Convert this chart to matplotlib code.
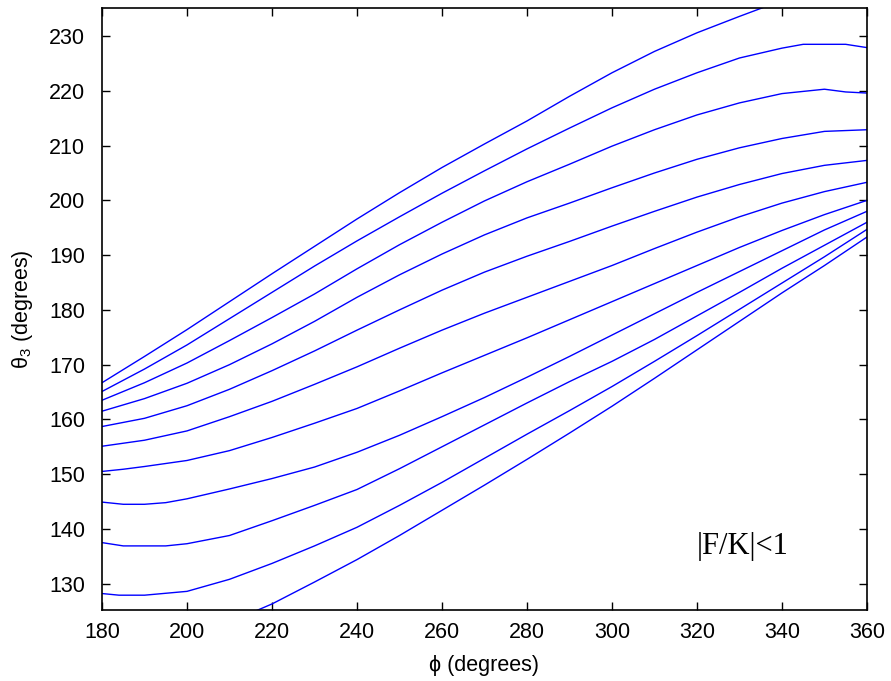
import matplotlib
matplotlib.use("Agg")
import matplotlib.pyplot as plt

plt.rcParams['font.family'] = ['Liberation Sans', 'DejaVu Sans']
plt.rcParams['mathtext.fontset'] = 'custom'
plt.rcParams['mathtext.rm'] = 'Liberation Sans'
plt.rcParams['mathtext.it'] = 'Liberation Sans'

# Curves: phi (degrees) and theta_3 (degrees)
phi_1 = [180, 190, 200, 210, 220, 230, 240, 250, 260, 270, 280, 290, 300, 310, 320, 330, 340, 350, 360]
theta_1 = [166.7, 171.5, 176.4, 181.5, 186.6, 191.6, 196.6, 201.4, 206.0, 210.3, 214.5, 219.0, 223.3, 227.2, 230.6, 233.6, 236.5, 239.0, 241.0]

phi_2 = [180, 190, 200, 210, 220, 230, 240, 250, 260, 270, 280, 290, 300, 310, 320, 330, 340, 345, 350, 355, 360]
theta_2 = [165.1, 169.2, 173.6, 178.4, 183.2, 188.0, 192.6, 197.0, 201.3, 205.4, 209.4, 213.2, 216.9, 220.3, 223.3, 226.0, 227.8, 228.5, 228.5, 228.5, 227.9]

phi_3 = [180, 190, 200, 210, 220, 230, 240, 250, 260, 270, 280, 290, 300, 310, 320, 330, 340, 345, 350, 355, 360]
theta_3 = [163.5, 166.7, 170.3, 174.4, 178.6, 182.9, 187.5, 191.9, 196.0, 199.9, 203.4, 206.6, 209.9, 212.9, 215.6, 217.8, 219.5, 219.9, 220.3, 219.8, 219.6]

phi_4 = [180, 190, 200, 210, 220, 230, 240, 250, 260, 270, 280, 290, 300, 310, 320, 330, 340, 350, 360]
theta_4 = [161.5, 163.8, 166.6, 170.0, 173.8, 177.9, 182.3, 186.4, 190.2, 193.7, 196.8, 199.5, 202.3, 205.0, 207.5, 209.6, 211.3, 212.6, 212.9]

phi_5 = [180, 190, 200, 210, 220, 230, 240, 250, 260, 270, 280, 290, 300, 310, 320, 330, 340, 350, 360]
theta_5 = [158.7, 160.2, 162.5, 165.5, 168.9, 172.5, 176.3, 180.0, 183.6, 186.9, 189.8, 192.5, 195.3, 198.0, 200.6, 202.9, 204.9, 206.4, 207.3]

phi_6 = [180, 190, 200, 210, 220, 230, 240, 250, 260, 270, 280, 290, 300, 310, 320, 330, 340, 350, 360]
theta_6 = [155.1, 156.2, 157.9, 160.5, 163.3, 166.4, 169.6, 173.0, 176.3, 179.4, 182.3, 185.2, 188.1, 191.2, 194.2, 197.0, 199.5, 201.6, 203.3]

phi_7 = [180, 185, 190, 200, 210, 220, 230, 240, 250, 260, 270, 280, 290, 300, 310, 320, 330, 340, 350, 360]
theta_7 = [150.5, 150.9, 151.4, 152.5, 154.3, 156.7, 159.3, 162.0, 165.2, 168.5, 171.7, 174.9, 178.2, 181.5, 184.8, 188.1, 191.4, 194.5, 197.4, 200.0]

phi_8 = [180, 185, 190, 195, 200, 210, 220, 230, 240, 250, 260, 270, 280, 290, 300, 310, 320, 330, 340, 350, 360]
theta_8 = [144.9, 144.5, 144.5, 144.8, 145.5, 147.3, 149.2, 151.3, 154.0, 157.1, 160.5, 164.0, 167.7, 171.5, 175.4, 179.3, 183.2, 187.0, 190.8, 194.6, 198.0]

phi_9 = [180, 185, 195, 200, 210, 220, 230, 240, 250, 260, 270, 280, 290, 300, 310, 320, 330, 340, 350, 360]
theta_9 = [137.5, 136.9, 136.9, 137.3, 138.8, 141.5, 144.3, 147.2, 151.0, 155.0, 159.0, 163.0, 166.9, 170.6, 174.6, 178.9, 183.2, 187.6, 191.8, 196.0]

phi_10 = [180, 184, 190, 200, 210, 220, 230, 240, 250, 260, 270, 280, 290, 300, 310, 320, 330, 340, 350, 360]
theta_10 = [128.2, 127.9, 127.9, 128.6, 130.8, 133.7, 136.9, 140.3, 144.3, 148.5, 152.9, 157.3, 161.6, 166.0, 170.6, 175.3, 180.1, 184.9, 189.7, 194.7]

phi_11 = [210, 217, 220, 230, 240, 250, 260, 270, 280, 290, 300, 310, 320, 330, 340, 350, 360]
theta_11 = [123.0, 125.3, 126.3, 130.3, 134.4, 138.8, 143.4, 148.0, 152.7, 157.5, 162.4, 167.5, 172.7, 177.9, 183.1, 188.1, 193.3]

curves = [(phi_1, theta_1), (phi_2, theta_2), (phi_3, theta_3), (phi_4, theta_4),
          (phi_5, theta_5), (phi_6, theta_6), (phi_7, theta_7), (phi_8, theta_8),
          (phi_9, theta_9), (phi_10, theta_10), (phi_11, theta_11)]

x_ticks = [180, 200, 220, 240, 260, 280, 300, 320, 340, 360]
y_ticks = [130, 140, 150, 160, 170, 180, 190, 200, 210, 220, 230]

fig = plt.figure(figsize=(8.91, 6.81), dpi=100)
ax = fig.add_axes([0.1145, 0.1043, 0.8585, 0.8837])

for px, ty in curves:
    ax.plot(px, ty, color='#0000ff', linewidth=1.0)

ax.set_xlim(180, 360)
ax.set_ylim(125.2, 235.1)
ax.set_xticks(x_ticks)
ax.set_yticks(y_ticks)
ax.tick_params(direction='in', length=6, width=1, top=True, right=True,
               labelsize=15.5)
ax.tick_params(axis='x', pad=9)
ax.tick_params(axis='y', pad=12)
for s in ax.spines.values():
    s.set_linewidth(1.2)

ax.set_xlabel('ϕ (degrees)', fontsize=15.5, labelpad=8)
ax.set_ylabel(r'$\mathregular{\theta_3}$ (degrees)', fontsize=15.5, labelpad=10)

ax.text(320, 135.4, '|F/K|<1', family='Liberation Serif', fontsize=22,
        ha='left', va='baseline')

fig.savefig('out.png', dpi=100)
